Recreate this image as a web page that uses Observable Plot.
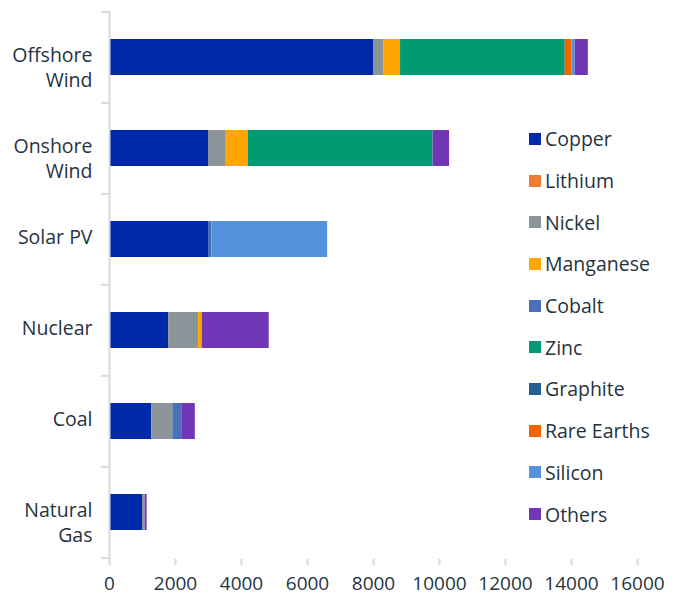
<!DOCTYPE html>
<html>
<head>
<meta charset="utf-8">
<script src="https://cdn.jsdelivr.net/npm/d3@7"></script>
<script src="https://cdn.jsdelivr.net/npm/@observablehq/plot@0.6"></script>
<style>
  html, body { margin: 0; padding: 0; background: #ffffff; }
  #wrap { position: relative; width: 678px; height: 596px; font-family: "Open Sans", sans-serif; }
  #legend { position: absolute; left: 529px; top: 118px; }
  .item { display: flex; align-items: center; height: 41.7px; font-size: 19.5px; color: #26333f; white-space: nowrap; }
  .sw { width: 12px; height: 12px; margin-right: 4px; flex: none; }
</style>
</head>
<body>
<div id="wrap"><div id="legend"></div></div>
<script>
const categories = ["Offshore Wind", "Onshore Wind", "Solar PV", "Nuclear", "Coal", "Natural Gas"];
const categoryLabels = ["Offshore\nWind", "Onshore\nWind", "Solar PV", "Nuclear", "Coal", "Natural\nGas"];
const minerals = ["Copper", "Lithium", "Nickel", "Manganese", "Cobalt", "Zinc", "Graphite", "Rare Earths", "Silicon", "Others"];
const mineralColors = ["#0028aa", "#ed7d31", "#8a9499", "#ffa600", "#4a70b7", "#009b72", "#255e91", "#f26600", "#5392dd", "#7036b5"];

// values per category (kg/MW), order follows `categories`
const copper     = [8000, 3000, 3000, 1790, 1280, 1000];
const lithium    = [0, 0, 0, 0, 0, 0];
const nickel     = [320, 515, 0, 910, 640, 80];
const manganese  = [500, 690, 0, 110, 0, 0];
const cobalt     = [0, 0, 100, 0, 270, 0];
const zinc       = [4990, 5600, 0, 0, 0, 0];
const graphite   = [0, 0, 0, 0, 0, 0];
const rareEarths = [210, 0, 0, 0, 0, 0];
const silicon    = [90, 0, 3510, 0, 0, 0];
const others     = [400, 500, 0, 2030, 410, 60];

const xTicks = [0, 2000, 4000, 6000, 8000, 10000, 12000, 14000, 16000];

const series = [copper, lithium, nickel, manganese, cobalt, zinc, graphite, rareEarths, silicon, others];
const rows = [];
minerals.forEach((m, mi) => {
  categories.forEach((c, ci) => {
    const v = series[mi][ci];
    if (v > 0) rows.push({category: c, mineral: m, value: v});
  });
});

const W = 678, H = 596, mTop = 11, mBottom = 37, mLeft = 109, mRight = 41;
const step = (H - mTop - mBottom) / categories.length;
const textColor = "#26333f";
const axisColor = "#d9d9d9";
const fs = 19.5;

const chart = Plot.plot({
  width: W,
  height: H,
  marginTop: mTop,
  marginBottom: mBottom,
  marginLeft: mLeft,
  marginRight: mRight,
  style: {fontFamily: "'Open Sans', sans-serif", background: "#ffffff", color: textColor},
  x: {domain: [0, 16000], axis: null},
  y: {domain: categories, paddingInner: 0.6, paddingOuter: 0.3, axis: null},
  color: {domain: minerals, range: mineralColors},
  marks: [
    Plot.barX(rows, {y: "category", x: "value", fill: "mineral", order: minerals}),
    Plot.ruleX([0], {stroke: axisColor, strokeWidth: 2}),
    Plot.ruleY(categories, {y: d => d, x1: 0, x2: 0, insetLeft: -8, dy: -step / 2, stroke: axisColor, strokeWidth: 2}),
    Plot.ruleY(categories.slice(-1), {y: d => d, x1: 0, x2: 0, insetLeft: -8, dy: step / 2, stroke: axisColor, strokeWidth: 2}),
    Plot.axisX({ticks: xTicks, tickFormat: d => String(d), tickSize: 6, tickPadding: 11, line: true, label: null,
      stroke: axisColor, strokeWidth: 2, fill: textColor, fontSize: 19}),
    Plot.text(categories, {y: d => d, x: 0, text: d => categoryLabels[categories.indexOf(d)],
      textAnchor: "end", dx: -17, lineAnchor: "top", dy: -13, lineHeight: 1.28, fontSize: fs, fill: textColor})
  ]
});

document.getElementById("wrap").prepend(chart);

const legend = document.getElementById("legend");
minerals.forEach((m, i) => {
  const it = document.createElement("div");
  it.className = "item";
  const sw = document.createElement("span");
  sw.className = "sw";
  sw.style.background = mineralColors[i];
  const tx = document.createElement("span");
  tx.textContent = m;
  it.appendChild(sw);
  it.appendChild(tx);
  legend.appendChild(it);
});
</script>
</body>
</html>
